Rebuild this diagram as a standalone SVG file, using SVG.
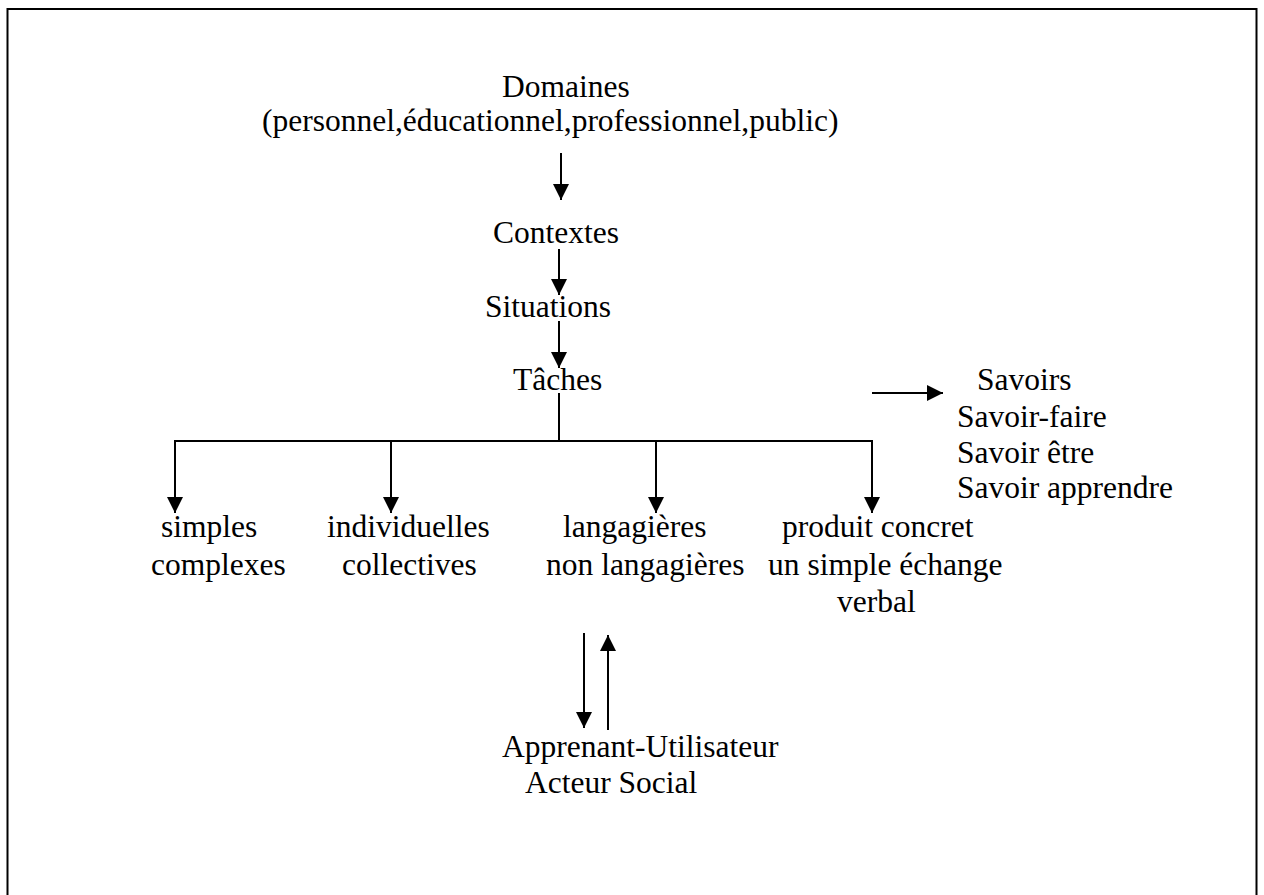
<svg xmlns="http://www.w3.org/2000/svg" width="1264" height="895" viewBox="0 0 1264 895">
<style>
text{font-family:"Liberation Serif","Times New Roman",serif;font-size:31.5px;fill:#000}
.c{stroke:#000;stroke-width:2;fill:none}
</style>
<defs>
<marker id="ah" markerUnits="userSpaceOnUse" markerWidth="17" markerHeight="16" refX="16" refY="8" orient="auto">
<path d="M0,0 L16,8 L0,16 z" fill="#000"/>
</marker>
</defs>
<rect x="0" y="0" width="1264" height="895" fill="#fff"/>
<rect id="frame" x="7.5" y="9" width="1249" height="900" fill="none" stroke="#000" stroke-width="2"/>
<g id="connectors">
<line class="c" x1="561" y1="153" x2="561" y2="200" marker-end="url(#ah)"/>
<line class="c" x1="559" y1="249" x2="559" y2="295" marker-end="url(#ah)"/>
<line class="c" x1="559" y1="321" x2="559" y2="368" marker-end="url(#ah)"/>
<line class="c" x1="559" y1="393" x2="559" y2="441"/>
<line class="c" x1="175" y1="441" x2="872" y2="441"/>
<line class="c" x1="175" y1="440" x2="175" y2="513" marker-end="url(#ah)"/>
<line class="c" x1="391" y1="441" x2="391" y2="513" marker-end="url(#ah)"/>
<line class="c" x1="656" y1="441" x2="656" y2="513" marker-end="url(#ah)"/>
<line class="c" x1="872" y1="440" x2="872" y2="513" marker-end="url(#ah)"/>
<line class="c" x1="872" y1="393" x2="943" y2="393" marker-end="url(#ah)"/>
<line class="c" x1="584" y1="633" x2="584" y2="728" marker-end="url(#ah)"/>
<line class="c" x1="608" y1="730" x2="608" y2="635" marker-end="url(#ah)"/>
</g>
<g id="domaines">
<text x="502" y="97">Domaines</text>
<text x="262" y="131">(personnel,éducationnel,professionnel,public)</text>
</g>
<g id="contextes"><text x="493" y="243">Contextes</text></g>
<g id="situations"><text x="485" y="317">Situations</text></g>
<g id="taches"><text x="513" y="390">Tâches</text></g>
<g id="savoirs">
<text x="977" y="390">Savoirs</text>
<text x="957" y="427">Savoir-faire</text>
<text x="957" y="463">Savoir être</text>
<text x="957" y="498">Savoir apprendre</text>
</g>
<g id="simples">
<text x="161" y="537">simples</text>
<text x="151" y="575">complexes</text>
</g>
<g id="individuelles">
<text x="327" y="537">individuelles</text>
<text x="342" y="575">collectives</text>
</g>
<g id="langagieres">
<text x="563" y="537">langagières</text>
<text x="546" y="575">non langagières</text>
</g>
<g id="produit">
<text x="782" y="537">produit concret</text>
<text x="768" y="575">un simple échange</text>
<text x="837" y="612">verbal</text>
</g>
<g id="apprenant">
<text x="502" y="757">Apprenant-Utilisateur</text>
<text x="525" y="793">Acteur Social</text>
</g>
</svg>
